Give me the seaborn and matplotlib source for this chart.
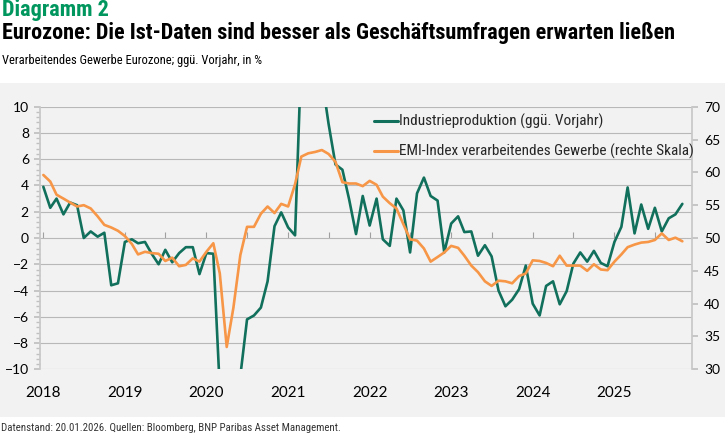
import numpy as np
import pandas as pd
import matplotlib
matplotlib.use("Agg")
import matplotlib.pyplot as plt
from matplotlib import font_manager
from matplotlib.patches import Rectangle
import matplotlib.dates as mdates
from matplotlib.ticker import MultipleLocator
import seaborn as sns

# ---------------- data ----------------
months = pd.date_range("2018-01-01", "2025-11-01", freq="MS")

industrial_production = [
    3.9, 2.3, 3.0, 1.8, 2.7, 2.5, 0.0, 0.5, 0.1, 0.4, -3.6, -3.45,          # 2018
    -0.3, -0.1, -0.4, -0.3, -1.2, -2.0, -0.9, -1.85, -1.15, -0.7, -0.7, -2.75,  # 2019
    -1.15, -1.2, -11.5, -28.0, -20.5, -10.5, -6.2, -5.9, -5.3, -3.3, 0.9, 1.95,  # 2020
    0.8, 0.2, 14.0, 39.0, 21.0, 12.2, 8.7, 5.6, 5.2, 2.95, 0.3, 3.2,        # 2021
    0.95, 3.0, -0.1, -0.6, 3.0, 2.1, -1.1, 3.4, 4.6, 3.2, 2.85, -1.1,       # 2022
    1.1, 1.65, 0.45, 0.5, -1.35, -0.55, -1.4, -4.0, -5.2, -4.7, -3.9, -2.1, # 2023
    -5.0, -5.9, -3.65, -3.3, -5.05, -4.05, -1.95, -1.1, -1.8, -0.98, -1.9, -2.15,  # 2024
    -0.3, 0.85, 3.85, 0.35, 2.55, 0.7, 2.3, 0.5, 1.5, 1.8, 2.6,             # 2025
]

pmi = [
    59.6, 58.6, 56.6, 56.0, 55.4, 54.8, 55.0, 54.5, 53.3, 52.0, 51.6, 51.1,  # 2018
    50.3, 49.1, 47.5, 47.9, 47.7, 47.6, 46.5, 47.0, 45.7, 45.9, 46.9, 46.4,  # 2019
    47.9, 49.2, 44.6, 33.4, 39.4, 47.4, 51.7, 51.7, 53.7, 54.8, 53.8, 55.2,  # 2020
    54.8, 58.2, 62.4, 62.9, 63.1, 63.4, 62.8, 61.6, 58.5, 58.3, 58.3, 57.9,  # 2021
    58.7, 58.1, 56.3, 55.3, 54.5, 52.1, 49.8, 49.6, 48.4, 46.4, 47.1, 47.8,  # 2022
    48.8, 48.5, 47.3, 45.8, 44.8, 43.4, 42.7, 43.5, 43.4, 43.1, 44.2, 44.6,  # 2023
    46.6, 46.5, 46.2, 45.7, 47.3, 45.8, 45.8, 45.8, 45.0, 46.0, 45.2, 45.1,  # 2024
    46.4, 47.5, 48.6, 49.0, 49.3, 49.4, 49.7, 50.7, 49.7, 50.05, 49.5,       # 2025
]

label_ip = "Industrieproduktion (ggü. Vorjahr)"
label_pmi = "EMI-Index verarbeitendes Gewerbe (rechte Skala)"
years = list(range(2018, 2026))

df = pd.DataFrame({"Monat": months, "IP": industrial_production, "PMI": pmi})

# ---------------- styling ----------------
sns.set_theme(style="white")
available = {f.name for f in font_manager.fontManager.ttflist}
narrow = "Roboto"
for cand in ("Liberation Sans Narrow", "Roboto Condensed", "Open Sans Condensed",
             "DejaVu Sans Condensed", "Noto Sans Condensed", "Roboto"):
    if cand in available:
        narrow = cand
        break
tickfont = "Lato" if "Lato" in available else "DejaVu Sans"
plt.rcParams["font.family"] = [narrow, "DejaVu Sans"]

GREEN = "#11705c"
ORANGE = "#f79646"
PANEL = "#f2f2f2"
GRID = "#b8b8b8"

W, H = 725, 434
fig = plt.figure(figsize=(W / 100, H / 100), dpi=100)
fig.patch.set_facecolor("white")

# gray panel behind the chart
fig.add_artist(Rectangle((0, 1 - 417 / H), 1, (417 - 83) / H, transform=fig.transFigure,
                         facecolor=PANEL, edgecolor="none", zorder=0))

ax = fig.add_axes([40 / W, 1 - 369.3 / H, (691.5 - 40) / W, (369.3 - 106.7) / H])
ax.set_facecolor(PANEL)
ax2 = ax.twinx()

sns.lineplot(data=df, x="Monat", y="IP", ax=ax, color=GREEN, linewidth=1.9,
             label=label_ip, legend=False, zorder=3)
sns.lineplot(data=df, x="Monat", y="PMI", ax=ax2, color=ORANGE, linewidth=1.9,
             label=label_pmi, legend=False, zorder=3)

ax.set_ylim(-10, 10)
ax2.set_ylim(30, 70)
ax.set_xlim(pd.Timestamp("2017-12-17"), pd.Timestamp("2025-12-12"))

# y axes
ax.yaxis.set_major_locator(MultipleLocator(2))
ax.yaxis.set_minor_locator(MultipleLocator(0.4))
ax2.yaxis.set_major_locator(MultipleLocator(5))
ax.grid(axis="y", color=GRID, linewidth=0.8, zorder=0)
ax.set_axisbelow(True)
for a in (ax, ax2):
    a.set_xlabel("")
    a.set_ylabel("")
    for s in ("top", "bottom"):
        a.spines[s].set_visible(False)
ax.spines["left"].set_color("#c8c8c8")
ax.spines["right"].set_visible(False)
ax2.spines["left"].set_visible(False)
ax2.spines["right"].set_color("#c8c8c8")

ax.tick_params(axis="y", which="major", direction="out", length=4, color="#c0c0c0",
               labelsize=10, labelcolor="black", pad=4)
ax.tick_params(axis="y", which="minor", direction="out", length=3, color="#c0c0c0", left=True)
ax2.tick_params(axis="y", which="major", direction="out", length=4, color="#c0c0c0",
                labelsize=10, labelcolor="black", pad=5)
for lab in ax.get_yticklabels() + ax2.get_yticklabels():
    lab.set_fontfamily(tickfont)

# x axis: year labels at the bottom
ax.set_xticks([pd.Timestamp(f"{y}-01-01") for y in years])
ax.set_xticklabels([str(y) for y in years])
ax.tick_params(axis="x", which="both", length=0, pad=12, labelsize=11, labelcolor="black")
for lab in ax.get_xticklabels():
    lab.set_fontfamily(tickfont)
ax2.tick_params(axis="x", length=0)

# half-year tick marks on the zero line
sec = ax.secondary_xaxis(0.5)
sec.xaxis.set_major_locator(mdates.MonthLocator(bymonth=[1, 7]))
sec.xaxis.set_major_formatter(plt.NullFormatter())
sec.tick_params(axis="x", direction="out", length=4, color="#a0a0a0", width=0.8)
for sp in sec.spines.values():
    sp.set_visible(False)

# legend
h1, l1 = ax.get_legend_handles_labels()
h2, l2 = ax2.get_legend_handles_labels()
renderer = fig.canvas.get_renderer()
probe = fig.text(0, 0, label_ip, fontsize=10)
leg_fs = 10 * 203 / probe.get_window_extent(renderer=renderer).width
probe.remove()
leg = ax2.legend(h1 + h2, l1 + l2, loc="upper left", bbox_to_anchor=(374 / W, 1 - 114 / H),
                 bbox_transform=fig.transFigure, frameon=False, fontsize=leg_fs,
                 handlelength=24 / (leg_fs * 1.389), handletextpad=0.08,
                 labelspacing=(30 - leg_fs * 1.389) / (leg_fs * 1.389),
                 borderpad=0, borderaxespad=0)
for line in leg.get_lines():
    line.set_linewidth(2.2)

# header and footer texts
t1 = fig.text(2 / W, 1 - 16 / H, "Diagramm 2", color="#00965e", fontweight="bold",
              fontsize=14, ha="left", va="baseline")
t2 = fig.text(2 / W, 1 - 39 / H, "Eurozone: Die Ist-Daten sind besser als Geschäftsumfragen erwarten ließen",
              color="black", fontweight="bold", fontsize=14, ha="left", va="baseline")
t3 = fig.text(2 / W, 1 - 64 / H, "Verarbeitendes Gewerbe Eurozone; ggü. Vorjahr, in %",
              color="black", fontsize=8, ha="left", va="baseline")
t4 = fig.text(1 / W, 1 - 431 / H, "Datenstand: 20.01.2026. Quellen: Bloomberg, BNP Paribas Asset Management.",
              color="#333333", fontsize=7, ha="left", va="baseline")

# fit text widths to the reference
for t, target in ((t1, 108), (t2, 678), (t3, 261), (t4, 342)):
    w = t.get_window_extent(renderer=renderer).width
    t.set_fontsize(t.get_fontsize() * target / w)

fig.savefig("out.png", dpi=100, facecolor="white")
